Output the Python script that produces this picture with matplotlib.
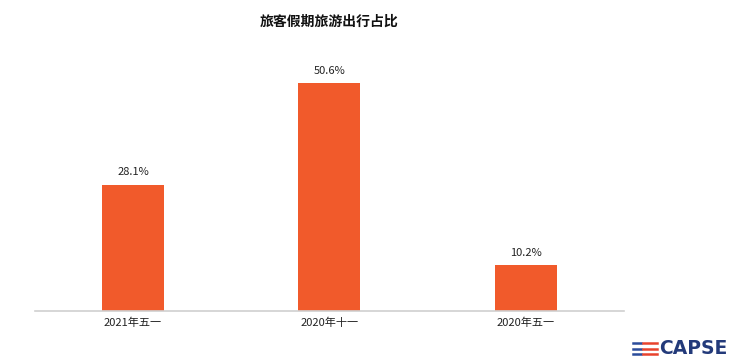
"""旅客假期旅游出行占比 bar chart."""
import matplotlib.pyplot as plt
from matplotlib.lines import Line2D

plt.rcParams["font.family"] = ["Noto Sans CJK SC", "DejaVu Sans"]

categories = ["2021年五一", "2020年十一", "2020年五一"]
shares = [28.1, 50.6, 10.2]

BAR_COLOR = "#F15A2B"

fig = plt.figure(figsize=(7.35, 3.6), dpi=100)
ax = fig.add_axes([0.0476, 0.136, 0.801, 0.75])

x = range(len(categories))
ax.bar(x, shares, width=0.316, color=BAR_COLOR)
for xi, v in zip(x, shares):
    ax.text(xi, v + 1.6, f"{v}%", ha="center", va="bottom", fontsize=8, color="#222222")

ax.set_xlim(-0.5, 2.5)
ax.set_ylim(0, 60)
ax.set_xticks(list(x))
ax.set_xticklabels(categories, fontsize=8, color="#222222")
ax.tick_params(axis="x", length=0, pad=5)
ax.set_yticks([])
for side in ("top", "right", "left"):
    ax.spines[side].set_visible(False)
ax.spines["bottom"].set_color("#d0d0d0")
ax.spines["bottom"].set_linewidth(1.2)

ax.set_title("旅客假期旅游出行占比", fontsize=10, fontweight="bold", pad=11, color="#111111")

# CAPSE logo, bottom right
W, H = 735, 360
def fx(px):
    return px / W
def fy(py):
    return 1 - py / H

for yy in [343, 348.5, 354]:
    fig.add_artist(Line2D([fx(633), fx(641)], [fy(yy), fy(yy)], color="#2B4C9B", lw=1.8))
    fig.add_artist(Line2D([fx(643), fx(657)], [fy(yy), fy(yy)], color="#E8432D", lw=1.8))
fig.text(fx(659), fy(349), "CAPSE", fontsize=13.5, fontweight="bold", color="#233A7A",
         ha="left", va="center", family="DejaVu Sans")

fig.savefig("out.png", dpi=100)
